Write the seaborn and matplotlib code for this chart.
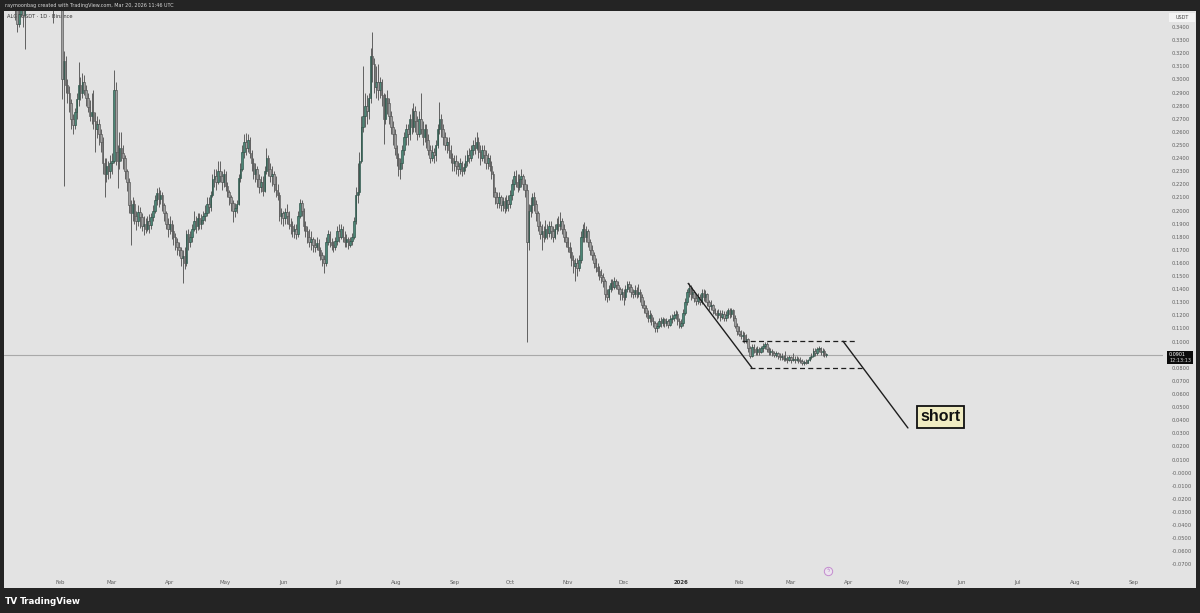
import numpy as np
import pandas as pd
import matplotlib
matplotlib.use("Agg")
import matplotlib.pyplot as plt
import matplotlib.dates as mdates
from matplotlib.patches import Rectangle
import seaborn as sns

# ---------------- data (ALGOUSDT 1D, Binance) ----------------
start_date = "2025-01-01"
first_open = 0.360
last_price = 0.0901

closes = [
    # Jan 2025
    0.372, 0.396, 0.421, 0.425, 0.418, 0.430, 0.400, 0.370, 0.342, 0.350, 0.356, 0.349, 0.372, 0.390, 0.412, 0.430,
    0.445, 0.432, 0.415, 0.405, 0.420, 0.408, 0.395, 0.402, 0.410, 0.396, 0.372, 0.380, 0.378, 0.392, 0.383,
    # Feb
    0.362, 0.300, 0.314, 0.296, 0.290, 0.282, 0.270, 0.265, 0.275, 0.285, 0.296, 0.290, 0.298, 0.292, 0.286, 0.279,
    0.272, 0.275, 0.268, 0.262, 0.266, 0.258, 0.252, 0.236, 0.228, 0.234, 0.230, 0.236,
    # Mar
    0.238, 0.292, 0.245, 0.238, 0.248, 0.244, 0.240, 0.230, 0.222, 0.204, 0.198, 0.205, 0.196, 0.192, 0.199, 0.195,
    0.188, 0.190, 0.186, 0.192, 0.189, 0.195, 0.200, 0.208, 0.213, 0.209, 0.212, 0.204, 0.198, 0.190, 0.186,
    # Apr
    0.190, 0.184, 0.180, 0.176, 0.172, 0.170, 0.164, 0.165, 0.160, 0.182, 0.176, 0.180, 0.186, 0.192, 0.188, 0.194,
    0.190, 0.193, 0.196, 0.198, 0.205, 0.203, 0.212, 0.224, 0.226, 0.222, 0.230, 0.226, 0.222, 0.228,
    # May
    0.219, 0.214, 0.210, 0.206, 0.200, 0.202, 0.205, 0.225, 0.232, 0.245, 0.252, 0.248, 0.254, 0.244, 0.236, 0.228,
    0.232, 0.224, 0.218, 0.222, 0.215, 0.230, 0.240, 0.232, 0.226, 0.228, 0.220, 0.216, 0.212, 0.196, 0.198,
    # Jun
    0.194, 0.199, 0.196, 0.190, 0.188, 0.184, 0.186, 0.182, 0.196, 0.206, 0.200, 0.188, 0.184, 0.180, 0.176, 0.178,
    0.174, 0.172, 0.175, 0.170, 0.166, 0.163, 0.160, 0.176, 0.182, 0.176, 0.174, 0.172, 0.177, 0.184,
    # Jul
    0.180, 0.186, 0.180, 0.176, 0.178, 0.174, 0.177, 0.180, 0.192, 0.212, 0.214, 0.238, 0.264, 0.272, 0.280, 0.276,
    0.286, 0.318, 0.312, 0.294, 0.298, 0.292, 0.298, 0.288, 0.270, 0.286, 0.282, 0.272, 0.264, 0.258, 0.248,
    # Aug
    0.240, 0.232, 0.236, 0.246, 0.256, 0.262, 0.258, 0.270, 0.264, 0.276, 0.268, 0.258, 0.270, 0.262, 0.256, 0.262,
    0.254, 0.246, 0.240, 0.245, 0.242, 0.250, 0.262, 0.270, 0.262, 0.256, 0.250, 0.252, 0.246, 0.240, 0.236,
    # Sep
    0.238, 0.234, 0.232, 0.236, 0.230, 0.233, 0.238, 0.242, 0.240, 0.246, 0.250, 0.248, 0.252, 0.245, 0.240, 0.246,
    0.242, 0.236, 0.240, 0.234, 0.228, 0.214, 0.210, 0.206, 0.210, 0.204, 0.207, 0.202, 0.208, 0.205,
    # Oct
    0.212, 0.220, 0.226, 0.222, 0.218, 0.224, 0.226, 0.220, 0.216, 0.176, 0.200, 0.204, 0.210, 0.205, 0.198, 0.188,
    0.182, 0.184, 0.180, 0.186, 0.183, 0.188, 0.184, 0.180, 0.186, 0.190, 0.188, 0.192, 0.186, 0.180, 0.176,
    # Nov
    0.172, 0.168, 0.162, 0.158, 0.160, 0.156, 0.162, 0.180, 0.186, 0.180, 0.184, 0.176, 0.170, 0.166, 0.160, 0.157,
    0.154, 0.151, 0.149, 0.146, 0.136, 0.134, 0.140, 0.145, 0.142, 0.146, 0.143, 0.140, 0.136, 0.138,
    # Dec
    0.134, 0.140, 0.144, 0.142, 0.138, 0.136, 0.139, 0.136, 0.138, 0.134, 0.128, 0.126, 0.122, 0.118, 0.120, 0.116,
    0.114, 0.110, 0.112, 0.116, 0.114, 0.117, 0.114, 0.116, 0.113, 0.117, 0.118, 0.120, 0.121, 0.116, 0.112,
    # Jan 2026
    0.114, 0.122, 0.130, 0.138, 0.141, 0.136, 0.138, 0.133, 0.131, 0.134, 0.130, 0.137, 0.134, 0.136, 0.130, 0.127,
    0.128, 0.124, 0.122, 0.120, 0.122, 0.119, 0.121, 0.118, 0.120, 0.124, 0.121, 0.124, 0.118, 0.112, 0.108,
    # Feb 2026
    0.106, 0.104, 0.105, 0.101, 0.102, 0.095, 0.089, 0.096, 0.094, 0.092, 0.094, 0.092, 0.095, 0.097, 0.098, 0.094,
    0.092, 0.093, 0.091, 0.090, 0.091, 0.089, 0.088, 0.089, 0.087, 0.087, 0.086, 0.088,
    # Mar 2026
    0.086, 0.087, 0.086, 0.087, 0.086, 0.085, 0.084, 0.0845, 0.084, 0.086, 0.088, 0.089, 0.093, 0.091, 0.094, 0.095,
    0.092, 0.093, 0.090, 0.0901,
]

highs = [
    0.378, 0.400, 0.428, 0.440, 0.430, 0.445, 0.438, 0.405, 0.375, 0.356, 0.362, 0.360, 0.378, 0.395, 0.418, 0.436,
    0.455, 0.450, 0.440, 0.425, 0.430, 0.425, 0.412, 0.410, 0.418, 0.414, 0.400, 0.386, 0.390, 0.398, 0.396,
    0.388, 0.362, 0.322, 0.318, 0.300, 0.295, 0.285, 0.274, 0.278, 0.290, 0.313, 0.302, 0.305, 0.303, 0.296, 0.290,
    0.284, 0.290, 0.292, 0.275, 0.272, 0.270, 0.262, 0.256, 0.240, 0.240, 0.238, 0.242,
    0.244, 0.307, 0.298, 0.250, 0.260, 0.260, 0.250, 0.242, 0.232, 0.225, 0.208, 0.210, 0.208, 0.200, 0.204, 0.203,
    0.198, 0.196, 0.194, 0.196, 0.197, 0.198, 0.204, 0.212, 0.217, 0.218, 0.216, 0.214, 0.206, 0.200, 0.194,
    0.196, 0.193, 0.190, 0.183, 0.179, 0.176, 0.172, 0.170, 0.172, 0.185, 0.186, 0.184, 0.190, 0.200, 0.196, 0.198,
    0.198, 0.197, 0.200, 0.204, 0.210, 0.210, 0.215, 0.228, 0.232, 0.232, 0.238, 0.238, 0.230, 0.232,
    0.230, 0.222, 0.216, 0.212, 0.208, 0.206, 0.208, 0.228, 0.236, 0.250, 0.258, 0.259, 0.258, 0.256, 0.246, 0.240,
    0.236, 0.234, 0.228, 0.226, 0.226, 0.234, 0.248, 0.242, 0.236, 0.234, 0.230, 0.226, 0.220, 0.214, 0.202,
    0.200, 0.202, 0.205, 0.200, 0.194, 0.192, 0.190, 0.190, 0.200, 0.209, 0.208, 0.202, 0.192, 0.188, 0.186, 0.184,
    0.180, 0.178, 0.180, 0.178, 0.172, 0.168, 0.166, 0.180, 0.185, 0.184, 0.179, 0.177, 0.180, 0.188,
    0.190, 0.190, 0.188, 0.184, 0.182, 0.180, 0.180, 0.183, 0.195, 0.218, 0.236, 0.245, 0.272, 0.310, 0.290, 0.288,
    0.290, 0.324, 0.336, 0.316, 0.310, 0.312, 0.302, 0.300, 0.290, 0.289, 0.292, 0.286, 0.276, 0.268, 0.262,
    0.250, 0.244, 0.240, 0.250, 0.260, 0.266, 0.266, 0.274, 0.278, 0.282, 0.280, 0.272, 0.276, 0.290, 0.268, 0.266,
    0.266, 0.258, 0.250, 0.250, 0.248, 0.254, 0.266, 0.283, 0.274, 0.266, 0.260, 0.256, 0.256, 0.250, 0.244,
    0.242, 0.242, 0.238, 0.240, 0.238, 0.236, 0.242, 0.246, 0.248, 0.250, 0.254, 0.256, 0.260, 0.256, 0.250, 0.250,
    0.250, 0.246, 0.244, 0.242, 0.238, 0.230, 0.218, 0.214, 0.214, 0.212, 0.210, 0.210, 0.212, 0.212,
    0.216, 0.224, 0.230, 0.231, 0.228, 0.228, 0.232, 0.228, 0.224, 0.220, 0.205, 0.210, 0.213, 0.214, 0.208, 0.200,
    0.192, 0.190, 0.188, 0.193, 0.190, 0.192, 0.192, 0.188, 0.190, 0.194, 0.196, 0.199, 0.194, 0.190, 0.184,
    0.180, 0.176, 0.172, 0.166, 0.164, 0.164, 0.166, 0.184, 0.190, 0.191, 0.188, 0.186, 0.178, 0.174, 0.168, 0.164,
    0.160, 0.158, 0.155, 0.152, 0.148, 0.140, 0.143, 0.148, 0.148, 0.149, 0.148, 0.146, 0.142, 0.141,
    0.140, 0.143, 0.146, 0.146, 0.144, 0.140, 0.143, 0.142, 0.144, 0.140, 0.136, 0.132, 0.128, 0.124, 0.124, 0.122,
    0.119, 0.116, 0.115, 0.118, 0.119, 0.119, 0.118, 0.118, 0.117, 0.120, 0.121, 0.123, 0.124, 0.123, 0.118,
    0.117, 0.125, 0.133, 0.140, 0.145, 0.143, 0.142, 0.139, 0.136, 0.137, 0.136, 0.140, 0.140, 0.139, 0.137, 0.132,
    0.132, 0.129, 0.126, 0.124, 0.125, 0.124, 0.124, 0.123, 0.123, 0.126, 0.126, 0.126, 0.125, 0.120, 0.114,
    0.112, 0.109, 0.108, 0.107, 0.106, 0.103, 0.097, 0.098, 0.098, 0.096, 0.097, 0.096, 0.097, 0.099, 0.100, 0.0995,
    0.096, 0.095, 0.094, 0.093, 0.093, 0.092, 0.091, 0.091, 0.090, 0.093, 0.089, 0.090,
    0.089, 0.091, 0.089, 0.089, 0.088, 0.088, 0.087, 0.086, 0.0865, 0.087, 0.089, 0.091, 0.095, 0.095, 0.096, 0.097,
    0.096, 0.095, 0.094, 0.091,
]

lows = [
    0.355, 0.368, 0.392, 0.410, 0.405, 0.412, 0.392, 0.345, 0.336, 0.340, 0.348, 0.340, 0.323, 0.368, 0.385, 0.405,
    0.425, 0.420, 0.400, 0.380, 0.390, 0.395, 0.385, 0.385, 0.395, 0.390, 0.360, 0.343, 0.365, 0.370, 0.372,
    0.358, 0.285, 0.219, 0.290, 0.282, 0.275, 0.262, 0.258, 0.262, 0.270, 0.280, 0.284, 0.286, 0.288, 0.280, 0.275,
    0.268, 0.266, 0.262, 0.245, 0.255, 0.250, 0.245, 0.228, 0.210, 0.222, 0.224, 0.225,
    0.228, 0.236, 0.235, 0.217, 0.232, 0.238, 0.232, 0.224, 0.215, 0.198, 0.174, 0.192, 0.190, 0.185, 0.188, 0.187,
    0.184, 0.181, 0.183, 0.184, 0.183, 0.186, 0.192, 0.198, 0.204, 0.203, 0.205, 0.200, 0.192, 0.186, 0.180,
    0.182, 0.178, 0.174, 0.170, 0.166, 0.165, 0.158, 0.145, 0.155, 0.158, 0.170, 0.172, 0.176, 0.184, 0.183, 0.185,
    0.186, 0.186, 0.190, 0.192, 0.196, 0.198, 0.200, 0.210, 0.218, 0.216, 0.220, 0.222, 0.216, 0.218,
    0.215, 0.210, 0.204, 0.200, 0.191, 0.195, 0.198, 0.204, 0.222, 0.230, 0.240, 0.242, 0.245, 0.240, 0.230, 0.224,
    0.222, 0.218, 0.213, 0.214, 0.211, 0.214, 0.228, 0.226, 0.222, 0.219, 0.214, 0.210, 0.208, 0.192, 0.190,
    0.188, 0.190, 0.190, 0.186, 0.182, 0.180, 0.179, 0.178, 0.180, 0.194, 0.196, 0.184, 0.180, 0.175, 0.172, 0.170,
    0.168, 0.168, 0.170, 0.165, 0.162, 0.158, 0.152, 0.158, 0.174, 0.172, 0.170, 0.168, 0.170, 0.174,
    0.176, 0.178, 0.176, 0.172, 0.172, 0.171, 0.172, 0.174, 0.178, 0.190, 0.206, 0.212, 0.236, 0.260, 0.264, 0.266,
    0.270, 0.282, 0.298, 0.290, 0.286, 0.284, 0.286, 0.280, 0.251, 0.266, 0.274, 0.266, 0.258, 0.250, 0.242,
    0.234, 0.226, 0.224, 0.232, 0.242, 0.250, 0.250, 0.254, 0.258, 0.260, 0.260, 0.254, 0.256, 0.258, 0.250, 0.252,
    0.248, 0.242, 0.236, 0.238, 0.236, 0.238, 0.248, 0.258, 0.256, 0.250, 0.246, 0.244, 0.240, 0.236, 0.230,
    0.230, 0.228, 0.226, 0.228, 0.226, 0.228, 0.230, 0.234, 0.236, 0.238, 0.242, 0.243, 0.246, 0.240, 0.235, 0.238,
    0.236, 0.232, 0.232, 0.230, 0.224, 0.210, 0.205, 0.202, 0.202, 0.200, 0.200, 0.198, 0.200, 0.200,
    0.202, 0.208, 0.216, 0.218, 0.214, 0.216, 0.218, 0.216, 0.210, 0.0996, 0.170, 0.195, 0.198, 0.200, 0.192, 0.184,
    0.178, 0.170, 0.176, 0.178, 0.178, 0.180, 0.178, 0.176, 0.178, 0.182, 0.184, 0.185, 0.182, 0.176, 0.172,
    0.168, 0.164, 0.158, 0.152, 0.146, 0.150, 0.154, 0.160, 0.176, 0.176, 0.176, 0.172, 0.166, 0.162, 0.156, 0.153,
    0.150, 0.147, 0.145, 0.142, 0.132, 0.130, 0.132, 0.138, 0.139, 0.140, 0.140, 0.136, 0.132, 0.132,
    0.128, 0.132, 0.138, 0.138, 0.134, 0.133, 0.134, 0.133, 0.134, 0.130, 0.126, 0.122, 0.119, 0.115, 0.115, 0.113,
    0.111, 0.107, 0.107, 0.110, 0.111, 0.112, 0.111, 0.112, 0.110, 0.112, 0.114, 0.116, 0.117, 0.113, 0.110,
    0.110, 0.112, 0.120, 0.128, 0.134, 0.132, 0.133, 0.130, 0.128, 0.129, 0.128, 0.129, 0.131, 0.130, 0.127, 0.124,
    0.124, 0.121, 0.120, 0.117, 0.118, 0.116, 0.117, 0.116, 0.116, 0.118, 0.118, 0.119, 0.116, 0.110, 0.105,
    0.104, 0.102, 0.100, 0.099, 0.099, 0.092, 0.0875, 0.088, 0.091, 0.090, 0.090, 0.090, 0.091, 0.092, 0.094, 0.092,
    0.090, 0.090, 0.089, 0.088, 0.088, 0.087, 0.086, 0.086, 0.085, 0.085, 0.084, 0.085,
    0.084, 0.085, 0.084, 0.085, 0.084, 0.0835, 0.0825, 0.0825, 0.0828, 0.0835, 0.085, 0.087, 0.088, 0.089, 0.090, 0.092,
    0.090, 0.089, 0.088, 0.0885,
]

month_starts = ["2025-02-01", "2025-03-01", "2025-04-01", "2025-05-01", "2025-06-01", "2025-07-01",
                "2025-08-01", "2025-09-01", "2025-10-01", "2025-11-01", "2025-12-01", "2026-01-01",
                "2026-02-01", "2026-03-01", "2026-04-01", "2026-05-01", "2026-06-01", "2026-07-01",
                "2026-08-01", "2026-09-01"]
month_labels = ["Feb", "Mar", "Apr", "May", "Jun", "Jul", "Aug", "Sep", "Oct", "Nov", "Dec", "2026",
                "Feb", "Mar", "Apr", "May", "Jun", "Jul", "Aug", "Sep"]
price_ticks = [round(0.34 - 0.01 * i, 2) for i in range(42)]
# the 0.0900 level is hidden behind the current-price tag in the reference
price_tick_labels = ["" if abs(v - 0.09) < 1e-9 else ("-0.0000" if abs(v) < 1e-9 else f"{v:.4f}")
                     for v in price_ticks]

# drawings: (days since start, price)
trend_line = [(368.6, 0.1447), (403.1, 0.0799)]
range_top = [(397.7, 0.1003), (458.4, 0.1003)]
range_bottom = [(402.0, 0.0799), (462.2, 0.0799)]
short_line = [(452.0, 0.1003), (486.9, 0.0341)]
short_label_pos = (504.4, 0.0425)

# ---------------- styling ----------------
sns.set_theme(style="white")
plt.rcParams["font.family"] = ["DejaVu Sans"]

BG = "#e3e3e3"
FRAME = "#242424"
UP_FACE, UP_EDGE = "#4c8676", "#2a4f45"
DN_FACE, DN_EDGE = "#a0a0a0", "#525252"
WICK = "#575757"
TICK_COL = "#5e5e5e"

n = min(len(closes), len(highs), len(lows))
dates = pd.date_range(start_date, periods=n, freq="D")
df = pd.DataFrame({"date": dates, "close": closes[:n], "high": highs[:n], "low": lows[:n]})
df["open"] = [first_open] + list(df["close"].iloc[:-1])
df["high"] = df[["high", "open", "close"]].max(axis=1)
df["low"] = df[["low", "open", "close"]].min(axis=1)
df["up"] = df["close"] >= df["open"]

W, H = 1200, 613
fig = plt.figure(figsize=(W / 100, H / 100), dpi=100)
fig.patch.set_facecolor(FRAME)
fig.add_artist(Rectangle((4 / W, 1 - 588 / H), 1192 / W, 577 / H, transform=fig.transFigure,
                         facecolor=BG, edgecolor="none", zorder=-10))

ax = fig.add_axes([4 / W, 1 - 577 / H, 1159 / W, 566 / H])
ax.set_facecolor(BG)
sns.despine(ax=ax, left=True, bottom=True, right=True, top=True)

t0 = mdates.date2num(pd.Timestamp(start_date))
xs = mdates.date2num(df["date"])
ax.set_xlim(t0 + (4 - 2.3) / 1.86, t0 + (1163 - 2.3) / 1.86)
ax.set_ylim(-0.0796, 0.3522)

# last price line
ax.axhline(last_price, color="#a9a9a9", lw=0.8, zorder=1)

# wicks
ax.vlines(xs, df["low"], df["high"], colors=WICK, lw=0.65, zorder=2)
# bodies
bottoms = np.minimum(df["open"], df["close"]).values
heights = np.maximum(np.abs(df["close"] - df["open"]).values, 0.0006)
up = df["up"].values
ax.bar(xs[up], heights[up], bottom=bottoms[up], width=0.8, color=UP_FACE,
       edgecolor=UP_EDGE, linewidth=0.45, zorder=3)
ax.bar(xs[~up], heights[~up], bottom=bottoms[~up], width=0.8, color=DN_FACE,
       edgecolor=DN_EDGE, linewidth=0.45, zorder=3)

# drawings
def seg(points, **kw):
    px = [t0 + p[0] for p in points]
    py = [p[1] for p in points]
    ax.plot(px, py, **kw)

seg(trend_line, color="#1e1e1e", lw=1.0, zorder=5, solid_capstyle="butt")
seg(range_top, color="#1e1e1e", lw=0.9, ls=(0, (4, 2.6)), zorder=5)
seg(range_bottom, color="#1e1e1e", lw=0.9, ls=(0, (4, 2.6)), zorder=5)
seg(short_line, color="#1e1e1e", lw=1.0, zorder=5)
ax.text(t0 + short_label_pos[0], short_label_pos[1], "short", ha="center", va="center",
        fontsize=11.5, fontweight="bold", family=["Liberation Sans", "DejaVu Sans"], color="#111111",
        bbox=dict(boxstyle="square,pad=0.22", facecolor="#f0ecc2", edgecolor="#111111", linewidth=1.3),
        zorder=6)

# event icon near time axis
ax.plot([t0 + (828 - 2.3) / 1.86], [-0.075], marker="o", ms=6, mfc="#ebe3ee", mec="#c48ccf",
        mew=0.7, zorder=6, clip_on=False)
ax.text(t0 + (828 - 2.3) / 1.86, -0.075, "ϟ", ha="center", va="center", fontsize=3.5,
        color="#b070c0", zorder=7)

# axes ticks
ax.yaxis.tick_right()
ax.set_yticks(price_ticks)
ax.set_yticklabels(price_tick_labels)
ax.tick_params(axis="y", length=0, pad=6, labelsize=3.7, labelcolor=TICK_COL)
ax.set_xticks([mdates.date2num(pd.Timestamp(d)) for d in month_starts])
ax.set_xticklabels(month_labels)
ax.tick_params(axis="x", length=0, pad=2.5, labelsize=3.9, labelcolor=TICK_COL)
for lab in ax.get_xticklabels():
    if lab.get_text() == "2026":
        lab.set_fontweight("bold")
        lab.set_color("#333333")
ax.grid(False)

# price scale header & current price label
fig.add_artist(Rectangle((1169 / W, 1 - 22 / H), 26 / W, 9 / H, transform=fig.transFigure,
                         facecolor="#f4f4f4", edgecolor="none", zorder=5))
fig.text(1182 / W, 1 - 17.5 / H, "USDT", ha="center", va="center", fontsize=3.5, color="#444444", zorder=6)
fig.add_artist(Rectangle((1167 / W, 1 - 364 / H), 26 / W, 13 / H, transform=fig.transFigure,
                         facecolor="#0c0c0c", edgecolor="none", zorder=5))
fig.text(1169 / W, 1 - 354.6 / H, f"{last_price:.4f}", ha="left", va="center", fontsize=3.5,
         color="white", zorder=6)
fig.text(1169 / W, 1 - 360.8 / H, "12:13:13", ha="left", va="center", fontsize=3.5,
         color="#dddddd", zorder=6)

# header / footer texts
fig.text(5 / W, 1 - 5.5 / H, "raymoonbag created with TradingView.com, Mar 20, 2026 11:46 UTC",
         ha="left", va="center", fontsize=3.55, color="#d6d6d6")
ax.text(7 / W, 1 - 17 / H, "ALGOUSDT · 1D · Binance", transform=fig.transFigure, ha="left",
        va="center", fontsize=3.7, color="#333333", zorder=1)
fig.text(5 / W, 1 - 601 / H, "TV", ha="left", va="center", fontsize=6.5, fontweight="heavy",
         color="white")
fig.text(20 / W, 1 - 601 / H, "TradingView", ha="left", va="center", fontsize=6.3,
         fontweight="bold", color="white")

fig.savefig("out.png", dpi=100, facecolor=fig.get_facecolor())
